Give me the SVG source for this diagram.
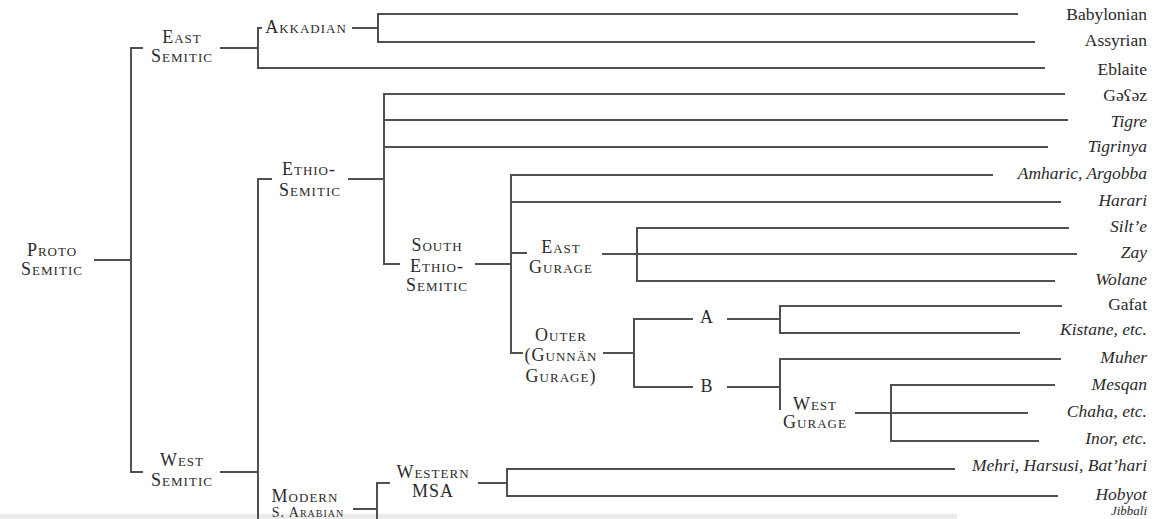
<svg xmlns="http://www.w3.org/2000/svg" width="1166" height="519" viewBox="0 0 1166 519">
<style>
.c{fill:none;stroke:#505050;stroke-width:2;stroke-linecap:butt;stroke-linejoin:miter}
text{font-family:"Liberation Serif","Times New Roman",serif;fill:#2b2b2b}
.sc{font-size:18px;font-variant:small-caps;letter-spacing:1px;text-anchor:middle}
.lf{font-size:17.5px;text-anchor:end}
.it{font-style:italic}
</style>
<rect width="1166" height="519" fill="#ffffff"/>
<rect x="0" y="514" width="957" height="5" fill="#ececec"/>
<g id="connectors" class="c">
<path d="M94,260 H131"/>
<path d="M143,48 H131 V472 H143"/>
<path d="M220,48 H258"/>
<path d="M262,28 H258 V68 H1045"/>
<path d="M352,28 H378"/>
<path d="M1018,14 H378 V42 H1035"/>
<path d="M220,472 H258"/>
<path d="M272,179 H258 V519"/>
<path d="M348,179 H384"/>
<path d="M1065,94 H384 V264 H400"/>
<path d="M384,120 H1068"/>
<path d="M384,147 H1048"/>
<path d="M475,264 H511"/>
<path d="M993,175 H511 V353 H523"/>
<path d="M511,202 H1061"/>
<path d="M511,253 H527"/>
<path d="M602,254 H637"/>
<path d="M1069,228 H637 V281 H1055"/>
<path d="M637,254 H1077"/>
<path d="M603,353 H634"/>
<path d="M693,319 H634 V387 H693"/>
<path d="M727,319 H780"/>
<path d="M1062,306 H780 V333 H1020"/>
<path d="M727,387 H780"/>
<path d="M1061,359 H780 V410"/>
<path d="M855,413 H891"/>
<path d="M1055,385 H891 V441 H1039"/>
<path d="M891,413 H1028"/>
<path d="M353,509 H377"/>
<path d="M390,483 H377 V519"/>
<path d="M478,483 H507"/>
<path d="M955,469 H507 V496 H1058"/>
</g>
<g id="proto-semitic"><text class="sc" x="52" y="256">Proto</text><text class="sc" x="52" y="275">Semitic</text></g>
<g id="east-semitic"><text class="sc" x="182" y="43">East</text><text class="sc" x="182" y="62">Semitic</text></g>
<g id="akkadian"><text class="sc" x="306" y="33">Akkadian</text></g>
<g id="west-semitic"><text class="sc" x="182" y="466">West</text><text class="sc" x="182" y="486">Semitic</text></g>
<g id="ethio-semitic"><text class="sc" x="309" y="175">Ethio-</text><text class="sc" x="310" y="196">Semitic</text></g>
<g id="south-ethio-semitic"><text class="sc" x="437" y="251">South</text><text class="sc" x="437" y="272">Ethio-</text><text class="sc" x="437" y="291">Semitic</text></g>
<g id="east-gurage"><text class="sc" x="561" y="253">East</text><text class="sc" x="561" y="273">Gurage</text></g>
<g id="outer-gurage"><text class="sc" x="561" y="341">Outer</text><text class="sc" x="561" y="361">(Gunnän</text><text class="sc" x="561" y="382">Gurage)</text></g>
<g id="group-a"><text class="sc" x="707" y="323">A</text></g>
<g id="group-b"><text class="sc" x="707" y="392">B</text></g>
<g id="west-gurage"><text class="sc" x="815" y="410">West</text><text class="sc" x="815" y="428">Gurage</text></g>
<g id="modern-south-arabian"><text class="sc" x="305" y="502">Modern</text><text class="sc" x="308" y="517" style="font-size:14px">S. Arabian</text></g>
<g id="western-msa"><text class="sc" x="433" y="478">Western</text><text class="sc" x="433" y="497">MSA</text></g>
<g id="babylonian"><text class="lf" x="1147" y="20">Babylonian</text></g>
<g id="assyrian"><text class="lf" x="1147" y="46">Assyrian</text></g>
<g id="eblaite"><text class="lf" x="1147" y="75">Eblaite</text></g>
<g id="geez"><text class="lf" x="1147" y="101">Gəʕəz</text></g>
<g id="tigre"><text class="lf it" x="1147" y="127">Tigre</text></g>
<g id="tigrinya"><text class="lf it" x="1147" y="152">Tigrinya</text></g>
<g id="amharic"><text class="lf it" x="1147" y="179">Amharic, Argobba</text></g>
<g id="harari"><text class="lf it" x="1147" y="206">Harari</text></g>
<g id="silte"><text class="lf it" x="1147" y="232">Silt’e</text></g>
<g id="zay"><text class="lf it" x="1147" y="258">Zay</text></g>
<g id="wolane"><text class="lf it" x="1147" y="285">Wolane</text></g>
<g id="gafat"><text class="lf" x="1147" y="310">Gafat</text></g>
<g id="kistane"><text class="lf it" x="1147" y="335">Kistane, etc.</text></g>
<g id="muher"><text class="lf it" x="1147" y="363">Muher</text></g>
<g id="mesqan"><text class="lf it" x="1147" y="390">Mesqan</text></g>
<g id="chaha"><text class="lf it" x="1147" y="417">Chaha, etc.</text></g>
<g id="inor"><text class="lf it" x="1147" y="444">Inor, etc.</text></g>
<g id="mehri"><text class="lf it" x="1147" y="471">Mehri, Harsusi, Bat’hari</text></g>
<g id="hobyot"><text class="lf it" x="1147" y="500">Hobyot</text></g>
<g id="jibbali"><text class="lf it" x="1147" y="515" style="font-size:13px">Jibbali</text></g>
</svg>
